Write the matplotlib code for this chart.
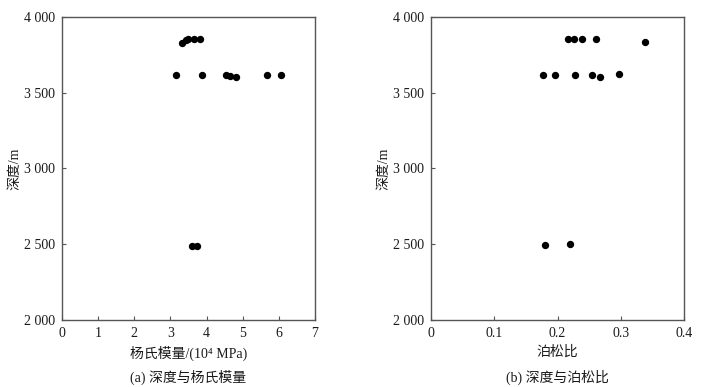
import matplotlib
matplotlib.use("Agg")
import matplotlib.pyplot as plt
from matplotlib.ticker import FuncFormatter

plt.rcParams['font.family'] = ['Liberation Serif', 'Noto Sans CJK SC', 'DejaVu Serif']

# Panel (a): Young's modulus (10^4 MPa) vs depth (m)
ym_x = [3.15, 3.88, 4.53, 4.66, 4.81, 5.66, 6.05,
        3.33, 3.42, 3.49, 3.66, 3.82,
        3.59, 3.73]
ym_depth = [3620, 3620, 3620, 3612, 3605, 3620, 3620,
            3830, 3850, 3858, 3855, 3855,
            2490, 2490]

# Panel (b): Poisson's ratio vs depth (m)
pr_x = [0.177, 0.196, 0.228, 0.254, 0.267, 0.297,
        0.216, 0.226, 0.239, 0.260, 0.338,
        0.180, 0.220]
pr_depth = [3620, 3620, 3620, 3620, 3605, 3622,
            3855, 3853, 3855, 3855, 3835,
            2495, 2500]

y_ticks = [2000, 2500, 3000, 3500, 4000]
xa_ticks = [0, 1, 2, 3, 4, 5, 6, 7]
xb_ticks = [0, 0.1, 0.2, 0.3, 0.4]

ylabel = "深度/m"
xa_label = "杨氏模量/(10⁴ MPa)"
xb_label = "泊松比"
cap_a = "(a) 深度与杨氏模量"
cap_b = "(b) 深度与泊松比"

fig = plt.figure(figsize=(7.01, 3.87), dpi=100)
ax_a = fig.add_axes([0.0884, 0.1731, 0.3610, 0.7830])
ax_b = fig.add_axes([0.6148, 0.1731, 0.3613, 0.7830])

def thousands(v, pos):
    s = f"{int(round(v)):d}"
    if len(s) > 3:
        s = s[:-3] + " " + s[-3:]
    return s

def dec(v, pos):
    if abs(v) < 1e-9:
        return "0"
    return f"{v:.1f}"

for ax, xs, ys, xt, xl, cap, fmt in [
    (ax_a, ym_x, ym_depth, xa_ticks, xa_label, cap_a, lambda v, p: f"{int(round(v))}"),
    (ax_b, pr_x, pr_depth, xb_ticks, xb_label, cap_b, dec),
]:
    ax.scatter(xs, ys, s=28, color='black', zorder=3, linewidths=0)
    ax.set_xlim(xt[0], xt[-1])
    ax.set_ylim(2000, 4000)
    ax.set_xticks(xt)
    ax.set_yticks(y_ticks)
    ax.xaxis.set_major_formatter(FuncFormatter(fmt))
    ax.yaxis.set_major_formatter(FuncFormatter(thousands))
    ax.tick_params(direction='in', length=3, width=0.8, colors='#555555',
                   labelcolor='#1a1a1a', labelsize=10, top=False, right=False, pad=5)
    for sp in ax.spines.values():
        sp.set_color('#555555')
        sp.set_linewidth(1.0)
    ax.set_ylabel(ylabel, fontsize=10, color='#1a1a1a', labelpad=2)
    ax.set_xlabel(xl, fontsize=10, color='#1a1a1a', labelpad=4)
    # caption centred under each panel
    bb = ax.get_position()
    fig.text((bb.x0 + bb.x1) / 2, 1 - 377 / 387, cap, ha='center', va='center',
             fontsize=10, color='#1a1a1a')

fig.savefig("out.png", dpi=100, facecolor='white')
